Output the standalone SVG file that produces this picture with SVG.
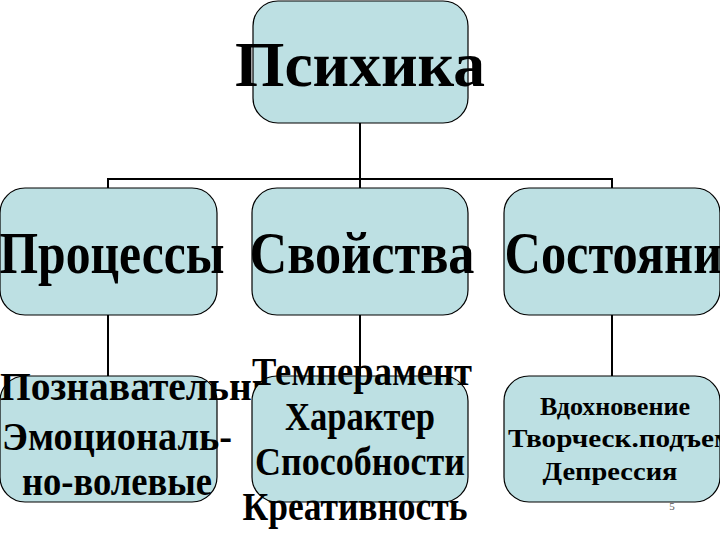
<svg xmlns="http://www.w3.org/2000/svg" width="720" height="540" viewBox="0 0 720 540">
<style>
.b{fill:#bde0e3;stroke:#000;stroke-width:1.2}
.t{font-family:"Liberation Serif",serif;font-weight:bold;fill:#000;text-anchor:middle}
.c{fill:none;stroke:#000;stroke-width:2}
</style>
<rect width="720" height="540" fill="#fff"/>
<g id="connectors">
<path class="c" d="M360 123V179M108 188V179H612V188M360 179V188M108 315V376M360 315V376M612 315V376"/>
</g>
<g id="psyche"><rect class="b" x="253" y="1" width="215" height="122" rx="25"/>
<text class="t" x="360" y="86" font-size="64" textLength="250" lengthAdjust="spacingAndGlyphs">Психика</text></g>
<g id="processes"><rect class="b" x="0" y="188" width="217" height="127" rx="25"/>
<text class="t" x="112" y="273" font-size="60" textLength="225" lengthAdjust="spacingAndGlyphs">Процессы</text></g>
<g id="properties"><rect class="b" x="252" y="188" width="216" height="127" rx="25"/>
<text class="t" x="362" y="273" font-size="60" textLength="225" lengthAdjust="spacingAndGlyphs">Свойства</text></g>
<g id="states"><rect class="b" x="504" y="188" width="216" height="127" rx="25"/>
<text class="t" x="627" y="273" font-size="60" textLength="245" lengthAdjust="spacingAndGlyphs">Состояния</text></g>
<g id="processes-list"><rect class="b" x="0" y="376" width="217" height="126" rx="25"/>
<text class="t" x="150" y="400" font-size="40" textLength="300" lengthAdjust="spacingAndGlyphs">Познавательные</text>
<text class="t" x="117" y="450" font-size="40" textLength="230" lengthAdjust="spacingAndGlyphs">Эмоциональ-</text>
<text class="t" x="117" y="495" font-size="40" textLength="190" lengthAdjust="spacingAndGlyphs">но-волевые</text></g>
<g id="properties-list"><rect class="b" x="252" y="376" width="216" height="126" rx="25"/>
<text class="t" x="362" y="385" font-size="40" textLength="220" lengthAdjust="spacingAndGlyphs">Темперамент</text>
<text class="t" x="360" y="430" font-size="40" textLength="150" lengthAdjust="spacingAndGlyphs">Характер</text>
<text class="t" x="360" y="475" font-size="40" textLength="210" lengthAdjust="spacingAndGlyphs">Способности</text>
<text class="t" x="355" y="520" font-size="40" textLength="225" lengthAdjust="spacingAndGlyphs">Креативность</text></g>
<g id="states-list"><rect class="b" x="504" y="376" width="216" height="126" rx="25"/>
<text class="t" x="615" y="415" font-size="26" textLength="150" lengthAdjust="spacingAndGlyphs">Вдохновение</text>
<text class="t" x="621" y="447" font-size="26" textLength="226" lengthAdjust="spacingAndGlyphs">Творческ.подъем</text>
<text class="t" x="610" y="480" font-size="26" textLength="135" lengthAdjust="spacingAndGlyphs">Депрессия</text>
<text x="672" y="510" font-family="Liberation Serif,serif" font-size="11" text-anchor="middle" fill="#555">5</text></g>
</svg>
